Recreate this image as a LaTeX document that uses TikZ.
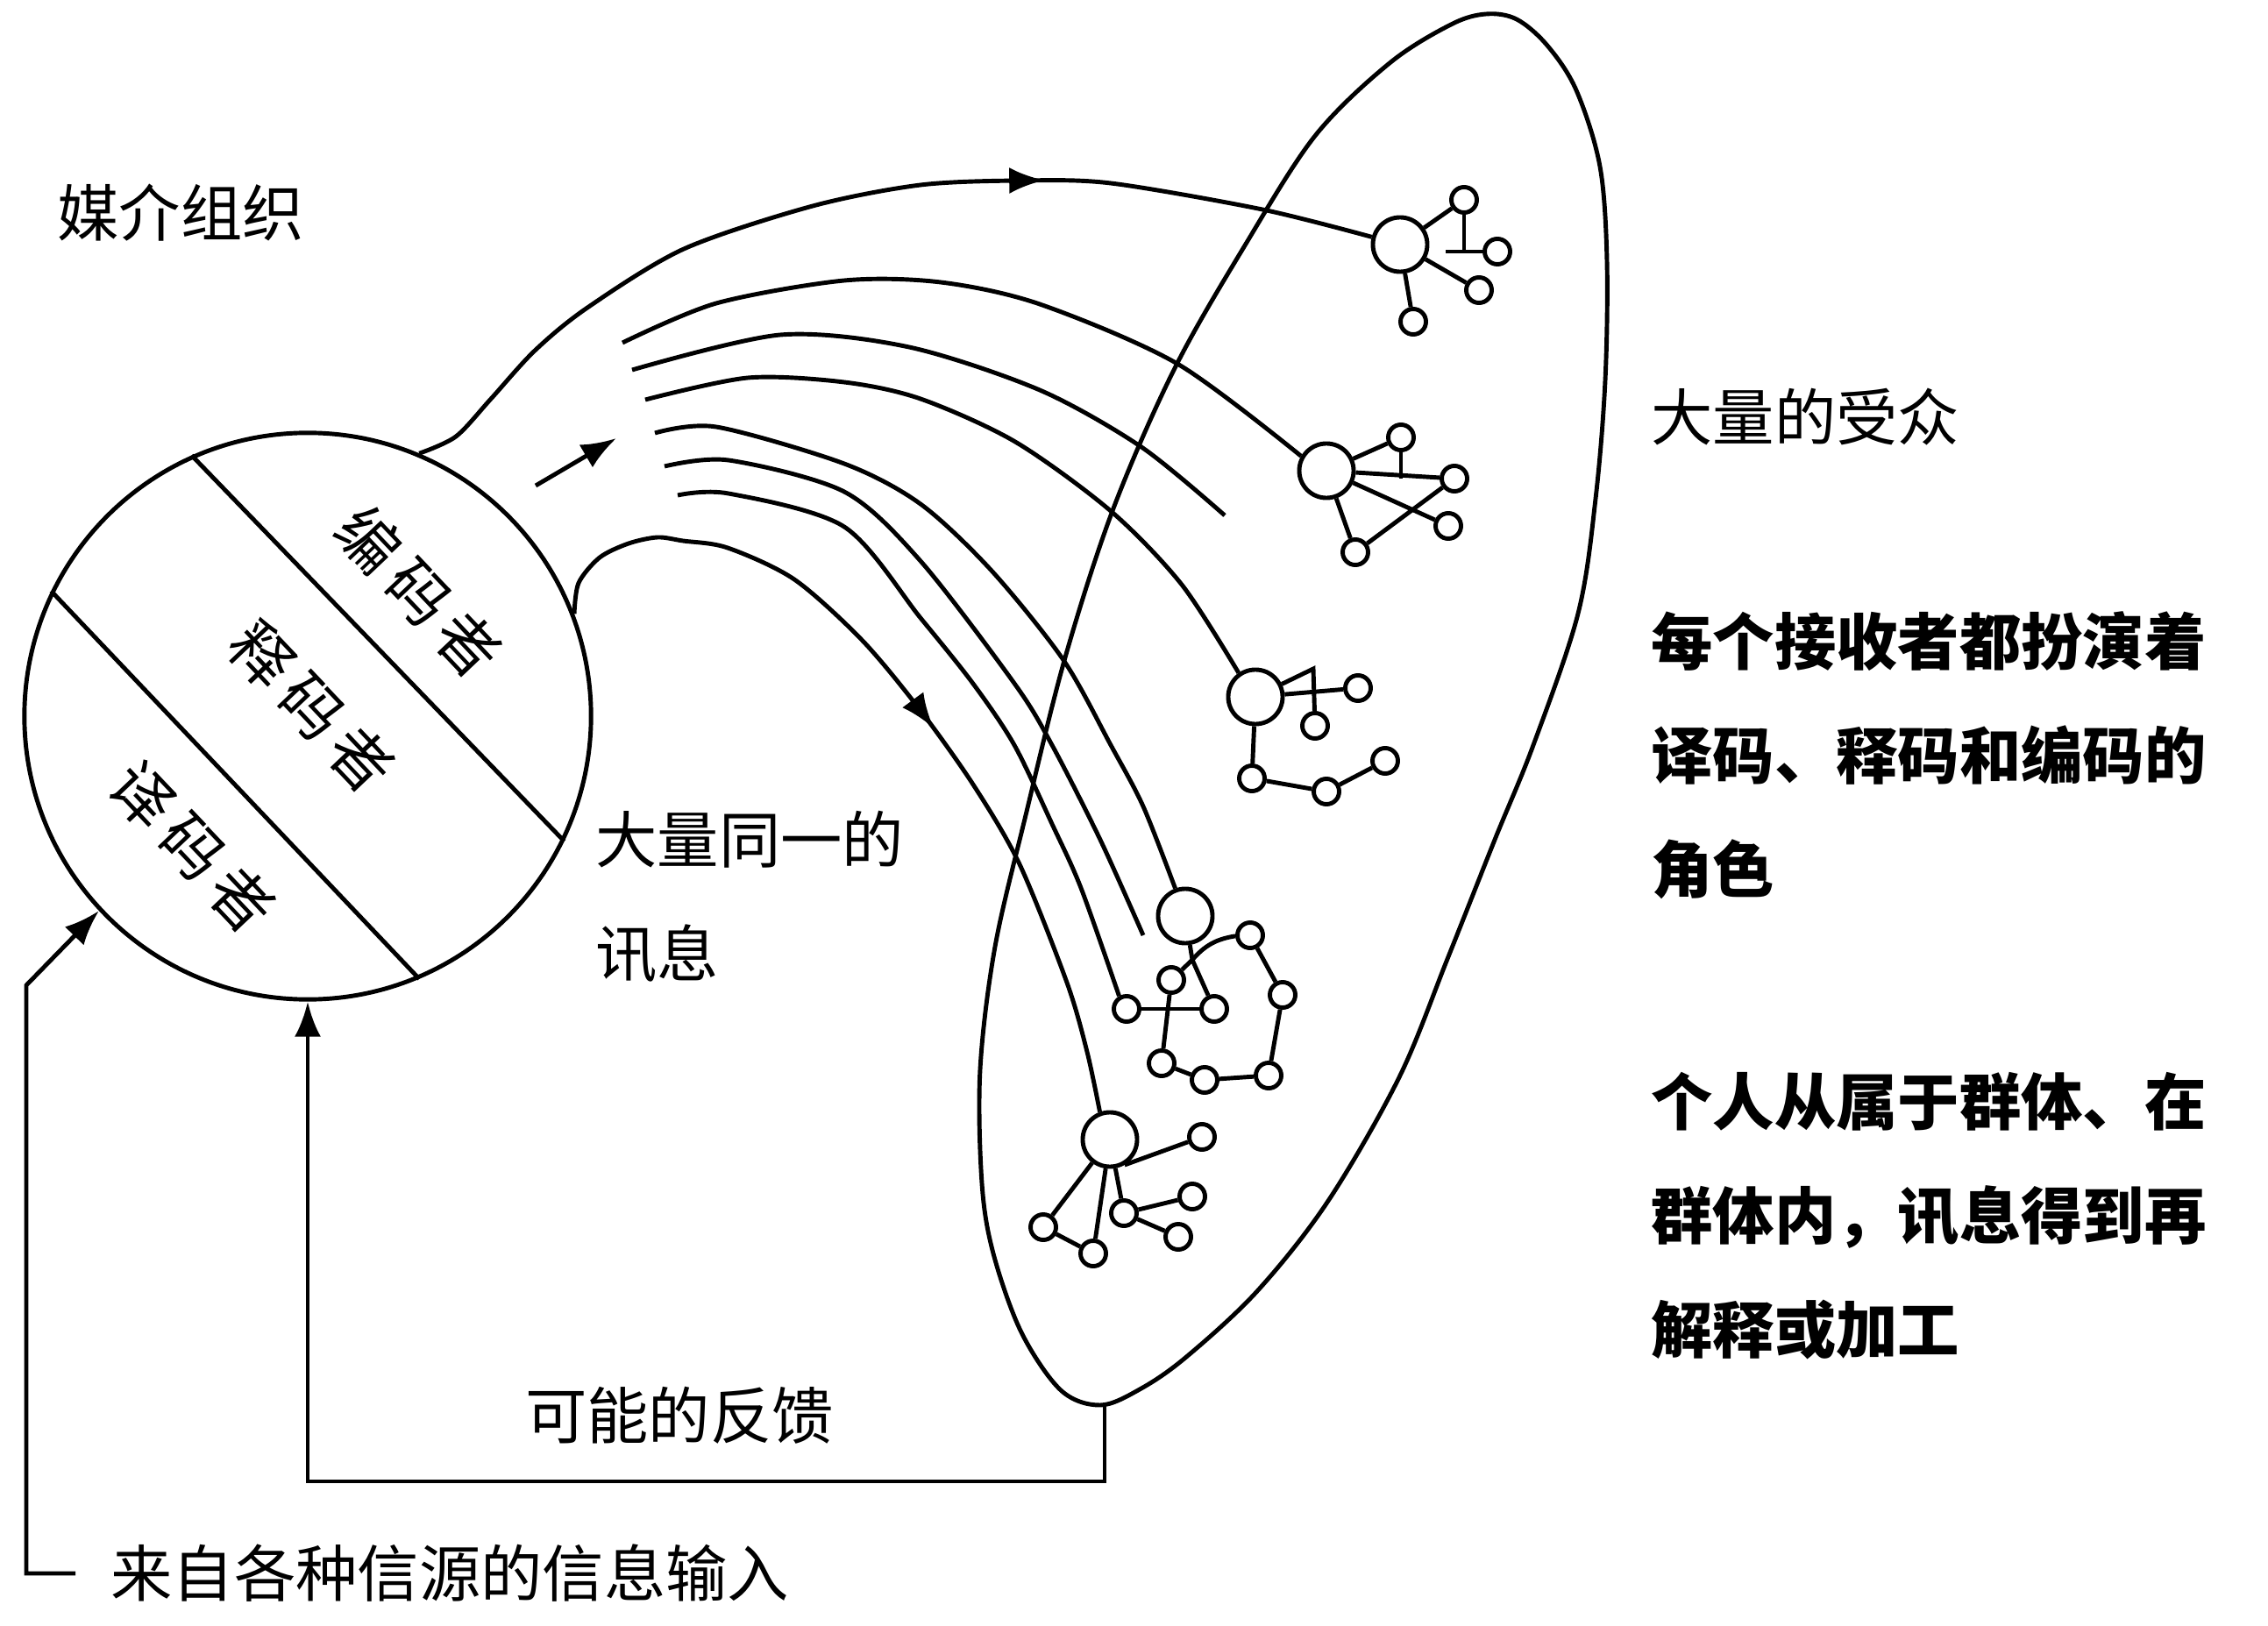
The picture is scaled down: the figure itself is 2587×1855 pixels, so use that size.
\documentclass[tikz,border=0pt]{standalone}
\usepackage{fontspec}
\setmainfont{Noto Sans CJK SC}
\usetikzlibrary{arrows.meta,decorations.markings}

\tikzset{
    txt/.style={inner sep=0pt, font=\fontsize{20}{37}\selectfont, align=left},
    big/.style={draw, circle, minimum size=0.62cm, inner sep=0pt},
    small/.style={draw, circle, minimum size=0.29cm, inner sep=0pt},
    arr/.style={-{Latex[length=0.4cm, width=0.3cm]}},
    midarr/.style={postaction={decorate, decoration={markings, mark=at position #1 with {\arrow{Latex[length=0.4cm, width=0.3cm]}}}}}
}

\begin{document}
\begin{tikzpicture}[x=0.01cm, y=-0.01cm, line width=1.4pt]
    \useasboundingbox (0,0) rectangle (2587,1855);

    % media organisation
    \node[draw, circle, minimum size=6.46cm, inner sep=0pt] (org) at (351,817) {};
    \draw (org.114) -- (org.-26);
    \draw (org.154) -- (org.-67);
    \node[txt, rotate=-46.5] (enc) at (478,675) {编\,码\,者};
    \node[txt, rotate=-46.5] (interp) at (356,806) {释\,码\,者};
    \node[txt, rotate=-46.5] (dec) at (220,966) {译\,码\,者};
    \node[txt] (mediaorg) at (206,243) {媒介组织};

    % the mass audience
    \draw plot[smooth cycle, tension=0.55] coordinates {(1655,28) (1695,16) (1730,22) (1765,52) (1798,103) (1825,190) (1833,298) (1831,434) (1820,569) (1800,700) (1749,850) (1705,958) (1651,1094) (1596,1229) (1515,1370) (1434,1473) (1352,1549) (1300,1585) (1255,1603) (1210,1586) (1165,1520) (1133,1430) (1120,1350) (1118,1220) (1135,1080) (1170,930) (1215,750) (1270,580) (1340,420) (1420,280) (1500,155) (1585,72)};
    \coordinate (audbot) at (1260,1602);

    % receivers
    \node[big] (r1) at (1597,279) {};
    \node[small] (a1) at (1670,228) {};
    \node[small] (a2) at (1708,287) {};
    \node[small] (a3) at (1687,331) {};
    \node[small] (a4) at (1612,367) {};
    \draw (r1) -- (a1);
    \draw (a1) -- (a1 |- a2);
    \draw (a2.west) -- ++(-42,0);
    \draw (r1) -- (a3);
    \draw (r1) -- (a4);

    \node[big] (r2) at (1513,537) {};
    \node[small] (b1) at (1598,499) {};
    \node[small] (b2) at (1659,546) {};
    \node[small] (b3) at (1652,600) {};
    \node[small] (b4) at (1546,630) {};
    \draw (r2) -- (b1);
    \draw (b1) -- (b1 |- b2);
    \draw (r2) -- (b2);
    \draw (r2) -- (b3);
    \draw (b2) -- (b4);
    \draw (r2) -- (b4);

    \node[big] (r3) at (1432,795) {};
    \node[small] (c1) at (1549,785) {};
    \node[small] (c2) at (1500,828) {};
    \node[small] (c3) at (1428,888) {};
    \node[small] (c4) at (1513,903) {};
    \node[small] (c5) at (1580,868) {};
    \coordinate (c0) at (1498,763);
    \draw (r3) -- (c0) -- (c2);
    \draw (r3) -- (c1);
    \draw (r3) -- (c3);
    \draw (c3) -- (c4) -- (c5);

    \node[big] (r4) at (1352,1045) {};
    \node[small] (d1) at (1336,1118) {};
    \node[small] (d2) at (1285,1151) {};
    \node[small] (d3) at (1385,1151) {};
    \node[small] (d4) at (1325,1213) {};
    \node[small] (d5) at (1374,1232) {};
    \node[small] (d6) at (1447,1227) {};
    \node[small] (d7) at (1463,1135) {};
    \node[small] (d8) at (1426,1067) {};
    \coordinate (d0) at (1360,1095);
    \draw (r4) -- (d0);
    \draw (d0) -- (d1);
    \draw (d0) -- (d3);
    \draw (d0) to[bend left=20] (d8);
    \draw (d8) -- (d7) -- (d6) -- (d5) -- (d4);
    \draw (d1) -- (d4);
    \draw (d2) -- (d3);

    \node[big] (r5) at (1266,1300) {};
    \node[small] (e1) at (1371,1297) {};
    \node[small] (e2) at (1360,1365) {};
    \node[small] (e3) at (1344,1411) {};
    \node[small] (e4) at (1282,1384) {};
    \node[small] (e5) at (1190,1400) {};
    \node[small] (e6) at (1247,1430) {};
    \draw (r5) -- (e4);
    \draw (e4) -- (e2);
    \draw (e4) -- (e3);
    \draw (r5.-60) -- (e1);
    \draw (r5) -- (e5);
    \draw (r5) -- (e6);
    \draw (e5) -- (e6);

    % messages
    \draw[midarr=0.68] plot[smooth] coordinates {(org.67) (520,498) (560,455) (610,400) (670,351) (780,284) (927,235) (1050,211) (1164,206) (1267,209) (1440,239) (r1.165)};
    \draw[midarr=0.53] plot[smooth] coordinates {(org.21) (660,665) (684,636) (717,620) (750,613) (779,617) (830,625) (906,661) (983,730) (1048,808) (1110,895) (1163,986) (1217,1121) (1240,1200) (r5.110)};

    \coordinate (flowtail) at (611,554);
    \coordinate (flowhead) at (703,500);
    \draw[arr] (flowtail) -- (flowhead);

    \coordinate (m1) at (710,391);
    \coordinate (m2) at (721,422);
    \coordinate (m3) at (736,456);
    \coordinate (m4) at (747,494);
    \coordinate (m5) at (758,532);
    \coordinate (m6) at (773,565);
    \coordinate (m2end) at (1397,588);
    \coordinate (m5end) at (1304,1067);
    \draw plot[smooth] coordinates {(m1) (817,346) (963,320) (1073,322) (1186,347) (1343,415) (r2.150)};
    \draw plot[smooth] coordinates {(m2) (890,382) (1037,396) (1186,445) (1302,510) (m2end)};
    \draw plot[smooth] coordinates {(m3) (853,431) (963,436) (1050,455) (1158,504) (1267,583) (1348,667) (r3.125)};
    \draw plot[smooth] coordinates {(m4) (817,487) (963,529) (1050,575) (1131,651) (1213,753) (1267,850) (1304,920) (r4.110)};
    \draw plot[smooth] coordinates {(m5) (831,525) (963,561) (1050,640) (1158,781) (1200,850) (1255,958) (m5end)};
    \draw plot[smooth] coordinates {(m6) (831,563) (963,601) (1050,705) (1110,780) (1157,850) (1200,940) (1233,1013) (d2.120)};

    % texts
    \node[txt, anchor=west] (msgs) at (677,1023) {大量同一的\\讯息};
    \node[txt, anchor=west] (mass) at (1881,476) {大量的受众};
    \node[txt, anchor=west, font=\fontsize{20}{37}\selectfont\bfseries] (roles) at (1881,862) {每个接收者都扮演着\\译码、释码和编码的\\角色};
    \node[txt, anchor=west, font=\fontsize{20}{37}\selectfont\bfseries] (groups) at (1881,1387) {个人从属于群体、在\\群体内，讯息得到再\\解释或加工};
    \node[txt] (fbtext) at (775,1615) {可能的反馈};
    \node[txt, anchor=west] (src) at (124,1795) {来自各种信源的信息输入};

    % feedback and input
    \coordinate (fb) at (1260,1690);
    \draw[arr] (audbot) -- (fb) -| (org.south);
    \coordinate (inbend) at (30,1124);
    \draw[arr] (src.west) ++(-38,0) -| (inbend) -- (org.223);
\end{tikzpicture}
\end{document}
